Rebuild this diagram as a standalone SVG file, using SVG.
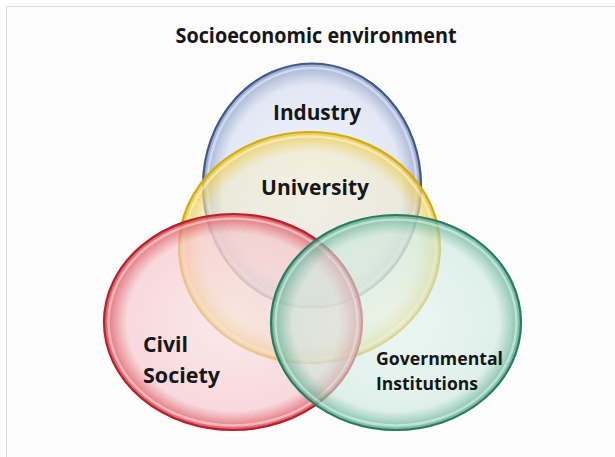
<svg xmlns="http://www.w3.org/2000/svg" width="615" height="457" viewBox="0 0 615 457">
  <style>
    .lbl { font-family: "Open Sans", "Liberation Sans", sans-serif; font-weight: bold; fill: #161616; }
    .big { font-size: 21px; }
    .small { font-size: 17.5px; }
    .rim { fill: none; stroke: #ffffff; stroke-opacity: 0.45; stroke-width: 2.5; }
  </style>
  <defs>
    <radialGradient id="gBlue" cx="0.5" cy="0.5" r="0.5">
      <stop offset="0" stop-color="#e6ebf6" stop-opacity="0.5"/>
      <stop offset="0.82" stop-color="#d0daee" stop-opacity="0.6"/>
      <stop offset="1" stop-color="#7f95c2" stop-opacity="0.8"/>
    </radialGradient>
    <radialGradient id="gYellow" cx="0.5" cy="0.5" r="0.5">
      <stop offset="0" stop-color="#f1ecd8" stop-opacity="0.5"/>
      <stop offset="0.82" stop-color="#f3ebc4" stop-opacity="0.55"/>
      <stop offset="1" stop-color="#ecc838" stop-opacity="0.85"/>
    </radialGradient>
    <radialGradient id="gRed" cx="0.5" cy="0.5" r="0.5">
      <stop offset="0" stop-color="#f9dcdf" stop-opacity="0.6"/>
      <stop offset="0.82" stop-color="#f6c6cb" stop-opacity="0.65"/>
      <stop offset="1" stop-color="#d9434d" stop-opacity="0.85"/>
    </radialGradient>
    <radialGradient id="gGreen" cx="0.5" cy="0.5" r="0.5">
      <stop offset="0" stop-color="#e2f3ed" stop-opacity="0.6"/>
      <stop offset="0.82" stop-color="#cbe8dd" stop-opacity="0.6"/>
      <stop offset="1" stop-color="#4fa88a" stop-opacity="0.8"/>
    </radialGradient>
  </defs>

  <!-- page -->
  <rect x="0" y="0" width="615" height="457" fill="#ffffff"/>
  <rect x="6" y="6" width="609" height="451" fill="#fcfcfd"/>
  <path d="M6.5 457 V6.5 H615" fill="none" stroke="#d6dce6" stroke-width="1"/>

  <text class="lbl" x="316" y="43" font-size="21" text-anchor="middle" textLength="281" lengthAdjust="spacingAndGlyphs">Socioeconomic environment</text>

  <g id="industry">
    <ellipse cx="312" cy="185.5" rx="109" ry="122" fill="url(#gBlue)" stroke="#40598c" stroke-width="2.2"/>
    <ellipse class="rim" cx="312" cy="185.5" rx="104.5" ry="117.5"/>
    <text class="lbl big" x="317" y="120" text-anchor="middle" textLength="88" lengthAdjust="spacingAndGlyphs">Industry</text>
  </g>

  <g id="university">
    <ellipse cx="309.5" cy="247.5" rx="130.5" ry="115.5" fill="url(#gYellow)" stroke="#d4ac12" stroke-width="2.2"/>
    <ellipse class="rim" cx="309.5" cy="247.5" rx="126" ry="111"/>
    <text class="lbl big" x="315" y="195" text-anchor="middle" textLength="108" lengthAdjust="spacingAndGlyphs">University</text>
  </g>

  <g id="civil-society">
    <ellipse cx="233" cy="322" rx="129" ry="108" fill="url(#gRed)" stroke="#b8212b" stroke-width="2.2"/>
    <ellipse class="rim" cx="233" cy="322" rx="124.5" ry="103.5"/>
    <text class="lbl big" x="143" y="352" textLength="45" lengthAdjust="spacingAndGlyphs">Civil</text>
    <text class="lbl big" x="143" y="383" textLength="77" lengthAdjust="spacingAndGlyphs">Society</text>
  </g>

  <g id="governmental-institutions">
    <ellipse cx="396" cy="322.5" rx="125" ry="107.5" fill="url(#gGreen)" stroke="#2a7b60" stroke-width="2.2"/>
    <ellipse class="rim" cx="396" cy="322.5" rx="120.5" ry="103"/>
    <text class="lbl small" x="376" y="365" textLength="127" lengthAdjust="spacingAndGlyphs">Governmental</text>
    <text class="lbl small" x="376" y="390" textLength="102" lengthAdjust="spacingAndGlyphs">Institutions</text>
  </g>

  <g id="connectors"/>
</svg>
